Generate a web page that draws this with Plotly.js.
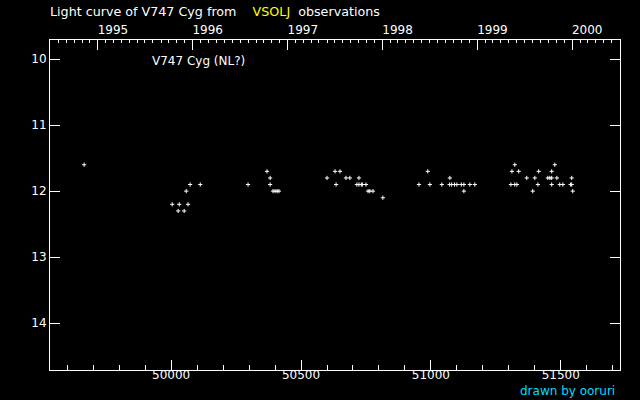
<!DOCTYPE html>
<html>
<head>
<meta charset="utf-8">
<script src="https://cdn.plot.ly/plotly-3.0.1.min.js"></script>
<style>
html,body{margin:0;padding:0;background:#000;}
#chart{width:640px;height:400px;}
</style>
</head>
<body>
<div id="chart"></div>
<script>
const mjd = [
  49665,
  50004, 50027, 50031, 50050, 50058, 50065, 50073, 50112,
  50296, 50369, 50381, 50381, 50392, 50400, 50408, 50415,
  50600, 50631, 50635, 50650, 50673, 50688, 50715, 50723, 50723, 50732, 50736, 50750, 50758, 50765, 50777, 50815,
  50954, 50988, 50996, 51042, 51073, 51072, 51080, 51091, 51100, 51117, 51127, 51127, 51150, 51169,
  51308, 51312, 51323, 51323, 51331, 51338, 51369, 51392, 51400, 51412, 51415, 51450, 51458, 51465, 51465, 51465, 51477, 51485, 51496, 51508, 51538, 51542, 51542, 51546
];
const mag = [
  11.6,
  12.2, 12.3, 12.2, 12.3, 12.0, 12.2, 11.9, 11.9,
  11.9, 11.7, 11.8, 11.9, 12.0, 12.0, 12.0, 12.0,
  11.8, 11.7, 11.9, 11.7, 11.8, 11.8, 11.9, 11.9, 11.8, 11.9, 11.9, 11.9, 12.0, 12.0, 12.0, 12.1,
  11.9, 11.7, 11.9, 11.9, 11.8, 11.9, 11.9, 11.9, 11.9, 11.9, 11.9, 12.0, 11.9, 11.9,
  11.9, 11.7, 11.6, 11.9, 11.9, 11.7, 11.8, 12.0, 11.8, 11.9, 11.7, 11.8, 11.8, 11.8, 11.7, 11.9, 11.6, 11.8, 11.9, 11.9, 11.9, 11.9, 11.8, 12.0
];
const mjdTicks = [50000, 50500, 51000, 51500];
const magTicks = [10, 11, 12, 13, 14];
const mjdRange = [49533.5, 51728];
const magRange = [14.71, 9.71];

function mjdToDate(m) {
  // MJD 40587 = 1970-01-01
  const ms = (m - 40587) * 86400000;
  return new Date(ms).toISOString().replace('T', ' ').replace('Z', '');
}

const trace = {
  x: mjd, y: mag, type: 'scatter', mode: 'markers',
  marker: {symbol: 'cross-thin', size: 3, color: '#fff', line: {color: '#fff', width: 1}},
  hoverinfo: 'skip'
};
const dummy = {x: [], y: [], xaxis: 'x2', type: 'scatter', mode: 'markers', showlegend: false};

const axCommon = {
  showgrid: false, zeroline: false, showline: true, linecolor: '#fff', linewidth: 1,
  ticks: 'inside', ticklen: 10, tickcolor: '#fff', tickwidth: 1,
  tickfont: {color: '#fff', size: 12, family: 'DejaVu Sans'}
};

const layout = {
  width: 640, height: 400,
  paper_bgcolor: '#000', plot_bgcolor: '#000',
  margin: {l: 50, r: 20, t: 40, b: 30},
  showlegend: false,
  font: {family: 'DejaVu Sans', size: 12, color: '#fff'},
  title: {
    text: 'Light curve of V747 Cyg from\u00A0\u00A0\u00A0\u00A0<span style="color:#ffff00">VSOLJ</span>\u00A0\u00A0observations',
    xref: 'container', yref: 'container', x: 50/640, xanchor: 'left', y: 1 - 12/400, yanchor: 'middle',
    font: {family: 'DejaVu Sans', size: 12.7, color: '#fff'}
  },
  xaxis: Object.assign({}, axCommon, {
    range: mjdRange, tickmode: 'array', tickvals: mjdTicks, ticktext: mjdTicks.map(String),
    ticklabelstandoff: -6,
    minor: {dtick: 100, tick0: 0, ticks: 'inside', ticklen: 5, tickcolor: '#fff', tickwidth: 1}
  }),
  xaxis2: Object.assign({}, axCommon, {
    type: 'date', overlaying: 'x', side: 'top', anchor: 'y',
    range: [mjdToDate(mjdRange[0]), mjdToDate(mjdRange[1])],
    tick0: '1995-01-01', dtick: 'M12', tickformat: '%Y', ticklabelshift: 15,
    minor: {dtick: 'M1', tick0: '1995-01-01', ticks: 'inside', ticklen: 3, tickcolor: '#fff', tickwidth: 1}
  }),
  yaxis: Object.assign({}, axCommon, {
    range: magRange, tickmode: 'array', tickvals: magTicks, ticktext: magTicks.map(String),
    mirror: 'ticks'
  }),
  annotations: [
    {text: 'V747 Cyg (NL?)', xref: 'paper', yref: 'paper', x: 100/570, y: (370-61)/330,
     xanchor: 'left', yanchor: 'middle', showarrow: false, font: {color: '#fff', size: 12}},
    {text: 'drawn by ooruri', xref: 'paper', yref: 'paper', x: (617-50)/570, y: (370-391)/330,
     xanchor: 'right', yanchor: 'middle', showarrow: false, font: {color: '#00ddff', size: 12}}
  ]
};

Plotly.newPlot('chart', [trace, dummy], layout, {staticPlot: true, displayModeBar: false});
</script>
</body>
</html>
